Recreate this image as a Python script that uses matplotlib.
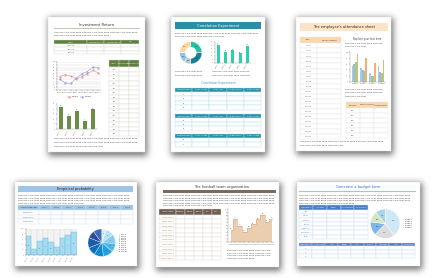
import numpy as np
import matplotlib
matplotlib.use('Agg')
import matplotlib.pyplot as plt
from matplotlib.patches import Rectangle

# ---------------- data ----------------
inv_months = ['Month 1', 'Month 2', 'Month 3', 'Month 4', 'Month 5', 'Month 6', 'Month 7', 'Month 8']
inv_red = [48, 55, 50, 40, 48, 58, 70, 62]
inv_blue = [38, 25, 24, 42, 58, 66, 82, 80]
inv_series = ['Series 1', 'Series 2']
inv_bar_labels = ['Item 1', 'Item 2', 'Item 3', 'Item 4', 'Item 5']
inv_bars = [45, 27, 37, 17, 40]
inv_t1_header = ['Investor', 'Investment Amount', 'Investment Return', 'Goal']
inv_t1_names = ['Text here', 'Text here', 'Text here']
inv_t2_header = ['Investor', 'Investment amount', 'Investment return']
inv_t2_names = ['Text'] * 15

corr_donut = [25, 25, 10, 15, 25]
corr_bar_labels = ['Test 1', 'Test 2', 'Test 3', 'Test 4', 'Test 5']
corr_bars = [52, 31, 35, 27, 48]
corr_header = ['Experiment Name', 'Project Average', 'Project Under', 'All project number', 'Project Average']
corr_names_a = ['A1', 'A2', 'A3', 'A4']
corr_names_b = ['B1', 'B2', 'B3']
corr_names_c = ['C1', 'C2']

att_groups = ['Group 1', 'Group 2', 'Group 3', 'Group 4']
att_s1 = [53, 47, 29, 53]
att_s2 = [59, 41, 21, 33]
att_s3 = [67, 35, 18, 29]
att_s4 = [94, 80, 65, 73]
att_header = ['Name', 'Date of Attendance']
att_names = ['Staff %d' % i for i in range(1, 20)]
att_small_header = ['Name/Date', 'Number of records', 'Attendance Rate']
att_small_names = ['Item'] * 6

emp_labels = ['Step %d' % i for i in range(1, 10)]
emp_bars = [72, 22, 52, 66, 51, 33, 65, 77, 87]
emp_pie = [6, 9, 11, 10, 12, 11, 10, 12, 9, 10]
emp_pie_labels = ['Step %d' % i for i in range(1, 11)]
emp_header = ['Probability test name'] + ['Step %d' % i for i in range(1, 9)]
emp_names = ['Experiment 1', 'Experiment 2', 'Experiment 3']

foot_labels = ['Team %d' % i for i in range(1, 11)]
foot_vals = [3.6, 7.0, 4.8, 3.2, 4.2, 5.4, 6.9, 8.4, 6.1, 7.0]
foot_header = ['Football teams', 'Goalkeeper', 'Forward', 'Midfield', 'Back', 'Coach']
foot_names = ['Football team %d' % i for i in range(1, 11)]

bud_pie = [40, 22, 15, 12, 11]
bud_pie_labels = ['Project 1', 'Project 2', 'Project 3', 'Project 4', 'Project 5']
bud_header = ['Sales revenue', 'Total sales', 'Budget', 'Actual expenditure', 'Total difference']
bud_names = ['Rent', 'Salaries', 'Materials', 'Utilities', 'Advertising', 'Miscellaneous', 'Others']
bud_header2 = ['Sales revenue', 'Project name', 'Total', 'Budget', 'Actual', 'Variance', 'Cost items', 'Total', 'Total difference']
bud_names2 = ['1', '2', '3']

# ---------------- figure ----------------
W, H = 438, 278
fig = plt.figure(figsize=(W / 100, H / 100), dpi=100)
fig.patch.set_facecolor('white')
bg = fig.add_axes([0, 0, 1, 1])
bg.axis('off')
renderer = fig.canvas.get_renderer()


def px_axes(x, y, w, h):
    return fig.add_axes([x / W, 1 - (y + h) / H, w / W, h / H])


pages = [(48, 17, 97, 135), (171, 17, 94, 135), (296, 17, 95, 134),
         (15, 182, 122, 84), (156, 182, 123, 85), (297, 182, 123, 84)]

# soft shadows
S = 2
yy, xx = np.mgrid[0:H * S, 0:W * S] / S
mask = np.zeros((H * S, W * S))
for (x, y, w, h) in pages:
    mask[(xx >= x + 0.5) & (xx <= x + w + 2.0) & (yy >= y + 1.0) & (yy <= y + h + 3.5)] = 1
sig = 3.2 * S
kk = np.arange(-4 * sig, 4 * sig + 1)
k = np.exp(-0.5 * (kk / sig) ** 2)
k /= k.sum()
blur = np.apply_along_axis(lambda r: np.convolve(r, k, 'same'), 1, mask)
blur = np.apply_along_axis(lambda c: np.convolve(c, k, 'same'), 0, blur)
rgba = np.zeros((H * S, W * S, 4))
rgba[..., :3] = 0.28
rgba[..., 3] = 0.75 * blur
bg.imshow(rgba, extent=[0, W, H, 0], zorder=0, interpolation='bilinear', aspect='auto')
bg.set_xlim(0, W)
bg.set_ylim(H, 0)

for (x, y, w, h) in pages:
    bg.add_patch(Rectangle((x, y), w, h, fc='white', ec='#e2e2e2', lw=0.3, zorder=1))

WORDS = ('Replace your text here ' * 14).split()


def filler(x0, x1, y, fs=1.7, color='#4a4a4a'):
    t = bg.text(x0, y, '', fontsize=fs, color=color, va='center', ha='left', zorder=3)
    s = ''
    for wd in WORDS:
        cand = (s + ' ' + wd).strip()
        t.set_text(cand)
        if t.get_window_extent(renderer).width > (x1 - x0):
            break
        s = cand
    t.set_text(s)


def table(x, y, w, h, header, rows, hdr_color, edge, hdr_text='white', fs=1.1,
          col_widths=None, first_col_color=None, hdr_ratio=1.0):
    ax = px_axes(x, y, w, h)
    ax.axis('off')
    tbl = ax.table(cellText=rows, colLabels=header, colWidths=col_widths,
                   cellLoc='center', bbox=[0, 0, 1, 1])
    tbl.auto_set_font_size(False)
    for (r, c), cell in tbl.get_celld().items():
        cell.set_edgecolor(edge)
        cell.set_linewidth(0.3)
        cell.PAD = 0.02
        txt = cell.get_text()
        txt.set_fontsize(fs)
        if r == 0:
            cell.set_facecolor(hdr_color)
            txt.set_color(hdr_text)
            cell.set_height(cell.get_height() * hdr_ratio)
        else:
            cell.set_facecolor('white')
            txt.set_color('#555555')
            if c == 0 and first_col_color:
                txt.set_color(first_col_color)
    return tbl


def style(ax, grid=False):
    ax.set_facecolor('none')
    for s in ['top', 'right']:
        ax.spines[s].set_visible(False)
    for s in ['left', 'bottom']:
        ax.spines[s].set_linewidth(0.3)
        ax.spines[s].set_color('#999999')
    ax.tick_params(labelsize=1.2, length=0.8, width=0.3, pad=0.4, colors='#666666')
    if grid:
        ax.yaxis.grid(True, color='#d8d8d8', lw=0.3)
        ax.set_axisbelow(True)


def rows_of(names, ncols):
    return [[n] + [''] * (ncols - 1) for n in names]


# ================= Page 1: Investment Return =================
bg.text(97, 25.3, 'Investment Return', fontsize=2.7, ha='center', va='center', color='#333333', zorder=3)
bg.plot([54, 139], [28.3, 28.3], color='#b7c2a4', lw=0.6, zorder=3)
filler(54, 139, 32.5)
filler(54, 118, 35.5)
table(54, 40, 85.3, 14, inv_t1_header, rows_of(inv_t1_names, 4), '#5f7f41', '#d6dccc',
      col_widths=[0.39, 0.2, 0.2, 0.21], hdr_ratio=1.1)

ax = px_axes(57, 62, 44, 28)
style(ax, grid=True)
xi = np.arange(len(inv_months))
ax.plot(xi, inv_red, color='#e38a8a', lw=0.35, marker='o', ms=0.5)
ax.plot(xi, inv_blue, color='#9497da', lw=0.35, marker='o', ms=0.5)
ax.set_ylim(0, 100)
ax.set_yticks(range(0, 101, 10))
ax.set_xlim(-0.5, len(inv_months) - 0.5)
ax.set_xticks(xi)
ax.set_xticklabels(inv_months, fontsize=1.0)
ax.legend(inv_series, loc='upper center', bbox_to_anchor=(0.5, -0.18), ncol=2, fontsize=1.1,
          frameon=False, handlelength=2.5, columnspacing=1.5)

ax = px_axes(57, 104, 40, 25)
style(ax)
bars = ax.bar(range(len(inv_bars)), inv_bars, width=0.5, color='#6a8d48')
ax.bar_label(bars, fontsize=1.1, padding=0.3, color='#444444')
ax.set_ylim(0, 50)
ax.set_yticks(range(0, 51, 10))
ax.set_xticks(range(len(inv_bars)))
ax.set_xticklabels(inv_bar_labels, rotation=60, ha='right')

table(109, 60, 30.3, 76, inv_t2_header, rows_of(inv_t2_names, 3), '#5f7f41', '#d6dccc',
      hdr_ratio=1.6)
filler(54, 139, 138.3)
filler(54, 139, 142)
filler(54, 105, 146)

# ================= Page 2: Correlation Experiment =================
bg.add_patch(Rectangle((175, 21.7), 86, 7.6, fc='#2b8da6', ec='none', zorder=2))
bg.text(218, 25.5, 'Correlation Experiment', fontsize=2.6, ha='center', va='center', color='white', zorder=3)
filler(175, 261, 33.3)
filler(175, 230, 36.7)

ax = px_axes(179, 41, 23.5, 23.5)
ax.pie(corr_donut, colors=['#20c4a4', '#1a7f96', '#b9c9c5', '#8ec5ea', '#fbd9a0'], startangle=90,
       counterclock=False, autopct='%d%%', pctdistance=0.75,
       textprops=dict(fontsize=1.1, color='#333333'),
       wedgeprops=dict(width=0.5, edgecolor='white', linewidth=0.3))
ax.set_xlim(-1.05, 1.05)
ax.set_ylim(-1.05, 1.05)
ax.set_aspect('equal')

ax = px_axes(215, 41.7, 35.7, 21)
style(ax)
bars = ax.bar(range(len(corr_bars)), corr_bars, width=0.45, color='#2ccfae')
ax.bar_label(bars, fontsize=1.1, padding=0.3, color='#444444')
ax.set_ylim(0, 60)
ax.set_yticks(range(0, 61, 10))
ax.set_xticks(range(len(corr_bars)))
ax.set_xticklabels(corr_bar_labels, rotation=60, ha='right')

filler(175, 205, 71.7)
filler(175, 205, 75)
filler(212, 250, 71.7)
filler(212, 250, 75)
bg.text(218, 82.7, 'Correlation Experiment', fontsize=2.2, ha='center', va='center', color='#3a9fb8', zorder=3)
table(175, 88, 86, 22, corr_header, rows_of(corr_names_a, 5), '#2a8fa8', '#b9dde7', hdr_ratio=0.8)
table(175, 114, 86, 16.7, corr_header, rows_of(corr_names_b, 5), '#2a8fa8', '#b9dde7', hdr_ratio=0.95)
table(175, 134, 86, 12.7, corr_header, rows_of(corr_names_c, 5), '#2a8fa8', '#b9dde7', hdr_ratio=0.8)

# ================= Page 3: attendance sheet =================
bg.add_patch(Rectangle((300, 22.7), 87.7, 8.3, fc='#fde4c6', ec='none', zorder=2))
bg.text(344, 26.9, "The employee's attendance sheet", fontsize=2.6, ha='center', va='center',
        color='#222222', zorder=3)
table(300, 36.7, 41, 102.6, att_header, rows_of(att_names, 2), '#fcd7ad', '#e3e3e3',
      hdr_text='#333333', col_widths=[0.41, 0.59], hdr_ratio=1.3)
bg.text(367, 39, 'Replace your text here', fontsize=1.8, ha='center', va='center', color='#444444', zorder=3)
filler(345, 388, 43)
filler(345, 372, 46.7)

ax = px_axes(350, 52.3, 36, 29.4)
style(ax)
gx = np.arange(len(att_groups))
bw = 0.19
for i, (vals, col) in enumerate(zip([att_s1, att_s2, att_s3, att_s4],
                                    ['#a5cbea', '#a7b8cf', '#93d67f', '#f2ad7b'])):
    ax.bar(gx + (i - 1.5) * bw, vals, width=bw, color=col)
ax.set_ylim(0, 100)
ax.set_yticks(range(0, 101, 20))
ax.set_xticks(gx)
ax.set_xticklabels(att_groups)

filler(345, 388, 89)
filler(345, 388, 92.7)
filler(345, 370, 96)
table(346, 101.7, 41.7, 36.6, att_small_header, rows_of(att_small_names, 3), '#fcd7ad', '#e3e3e3',
      hdr_text='#333333', hdr_ratio=1.3)
filler(300, 388, 141.7)
filler(300, 345, 145)

# ================= Page 4: Empirical probability =================
bg.add_patch(Rectangle((18.3, 186), 114.7, 6, fc='#9dc3e6', ec='none', zorder=2))
bg.text(75.6, 189, 'Empirical probability', fontsize=2.5, ha='center', va='center', color='#222222', zorder=3)
filler(18.3, 133, 195.3)
filler(18.3, 133, 198)
filler(18.3, 133, 200.7)
filler(18.3, 85, 203)
table(18.3, 205.3, 114.7, 18.4, emp_header, rows_of(emp_names, 9), '#9dc3e6', '#cfe2f3',
      hdr_text='#333333', col_widths=[0.18] + [0.1025] * 8, first_col_color='#2e75b6', hdr_ratio=1.1)

ax = px_axes(25.7, 228.7, 51, 26.6)
style(ax)
ex = np.arange(len(emp_bars))
ax.bar(ex, [100] * len(emp_bars), width=1.0, color='#f3f3f3', edgecolor='#dadada', linewidth=0.3)
bars = ax.bar(ex, emp_bars, width=1.0, color='#a6dcf2', edgecolor='#6cb6d9', linewidth=0.3)
ax.bar_label(bars, label_type='center', fontsize=1.1, color='#336699')
ax.set_ylim(0, 100)
ax.set_yticks(range(0, 101, 20))
ax.set_xlim(-0.5, len(emp_bars) - 0.5)
ax.set_xticks(ex)
ax.set_xticklabels(emp_labels, rotation=60, ha='right')

ax = px_axes(87.7, 228.7, 28, 28)
blues = ['#d9f0fb', '#b4e0f5', '#86cdf0', '#4fb7ea', '#23a2e3', '#1288d2', '#0f70ba',
         '#1a5ea6', '#2e4f98', '#3d68bd']
wedges, _, _ = ax.pie(emp_pie, colors=blues, startangle=90, counterclock=False, autopct='%d',
                      pctdistance=0.65, textprops=dict(fontsize=1.0, color='#333333'),
                      wedgeprops=dict(edgecolor='white', linewidth=0.2))
ax.set_xlim(-1.02, 1.02)
ax.set_ylim(-1.02, 1.02)
ax.set_aspect('equal')
ax.legend(wedges, emp_pie_labels, loc='center left', bbox_to_anchor=(1.08, 0.5), fontsize=1.1,
          handlelength=0.9, handleheight=0.9, labelspacing=0.35, frameon=False, borderpad=0)

# ================= Page 5: football team =================
bg.text(221.7, 187, 'The football team organization', fontsize=2.5, ha='center', va='center',
        color='#333333', zorder=3)
bg.add_patch(Rectangle((163, 190.3), 113, 2.2, fc='#7a695d', ec='none', zorder=2))
filler(163, 276, 195.3)
filler(163, 276, 198)
filler(163, 276, 200.7)
filler(163, 276, 203)
filler(163, 215, 205.3)
table(159.3, 208.7, 61.7, 51.6, foot_header, rows_of(foot_names, 6), '#6e5d51', '#e0dcd8',
      col_widths=[0.27] + [0.146] * 5, first_col_color='#b47c3c', hdr_ratio=1.3)

ax = px_axes(228.3, 209.3, 45.7, 32.7)
style(ax)
fx = np.arange(len(foot_vals))
ax.fill_between(fx, foot_vals, step='mid', color='#ebcdb0', lw=0)
ax.step(fx, foot_vals, where='mid', color='#d9aa85', lw=0.4)
for i, v in enumerate(foot_vals):
    ax.text(i, v + 0.25, '%.1f' % v, fontsize=1.0, ha='center', va='bottom', color='#555555')
ax.set_xlim(-0.5, len(foot_vals) - 0.5)
ax.set_ylim(0, 10)
ax.set_yticks(range(0, 11, 1))
ax.set_xticks(fx)
ax.set_xticklabels(foot_labels, fontsize=0.9)
filler(227, 274, 250.3)
filler(227, 274, 253)
filler(227, 274, 255.7)
filler(227, 262, 258.3)

# ================= Page 6: budget form =================
bg.text(358, 187, 'Generate a budget form', fontsize=2.6, ha='center', va='center', color='#2f6eb5', zorder=3)
bg.plot([299, 415], [191, 191], color='#9dc3e6', lw=0.8, zorder=3)
filler(299, 415, 195.3)
filler(299, 415, 198)
filler(299, 415, 200.7)
filler(299, 355, 203)
table(299.3, 205.3, 68.7, 33.4, bud_header, rows_of(bud_names, 5), '#4a7ebf', '#c9daf0',
      first_col_color='#4a7ebf', hdr_ratio=1.05)

ax = px_axes(370.3, 208.7, 30, 30)
wedges, _, _ = ax.pie(bud_pie, colors=['#cfe8f5', '#dcdcdc', '#7eb6e9', '#d4e7c3', '#a6d5e6'],
                      startangle=90, counterclock=False, autopct='%d%%', pctdistance=0.6,
                      textprops=dict(fontsize=1.1, color='#333333'),
                      wedgeprops=dict(edgecolor='white', linewidth=0.3))
ax.set_xlim(-1.02, 1.02)
ax.set_ylim(-1.02, 1.02)
ax.set_aspect('equal')
ax.legend(wedges, bud_pie_labels, loc='center left', bbox_to_anchor=(1.05, 0.5), fontsize=1.1,
          handlelength=0.9, handleheight=0.9, labelspacing=0.4, frameon=False, borderpad=0)

table(299.3, 242.7, 115.7, 15.3, bud_header2, rows_of(bud_names2, 9), '#4a7ebf', '#c9daf0',
      hdr_ratio=0.83)

fig.savefig('out.png', dpi=100)
